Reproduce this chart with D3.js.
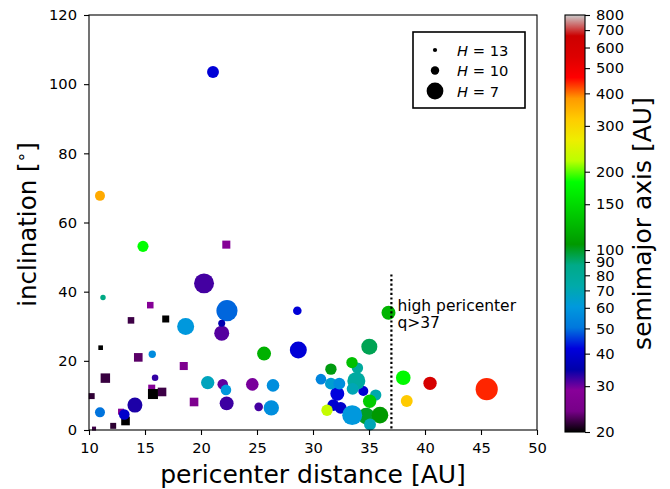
<!DOCTYPE html>
<html><head><meta charset="utf-8">
<script src="https://cdn.jsdelivr.net/npm/d3@7"></script>
<style>body{margin:0;background:#fff} text{font-family:"DejaVu Sans",sans-serif}</style>
</head><body><svg id="c" width="670" height="489"></svg>
<script>
// ---- data: round markers ----
const circleQ   = [21.07,10.98,14.82,20.27,11.25,18.63,22.32,21.85,21.85,28.6,15.65,15.9,20.6,10.98,14.1,13.15,25.63,28.69,21.94,22.23,24.58,26.43,22.29,25.15,26.28,36.74,35.03,33.97,33.48,31.6,30.71,32.17,31.6,32.35,34.49,33.87,33.54,31.81,32.47,31.25,35.6,35.06,34.76,33.5,35.98,35.09,38.06,40.45,38.37,45.51];
const circleInc = [103.5,67.7,53.1,42.4,38.3,29.9,34.5,28.0,30.9,34.5,21.9,15.1,13.7,5.1,7.2,4.5,22.1,23.1,13.2,11.6,13.2,12.9,7.7,6.7,6.4,33.9,24.1,17.9,19.5,17.6,14.7,10.5,13.4,13.4,11.3,14.2,11.9,7.2,6.4,5.7,10.1,8.3,4.0,4.3,4.3,1.6,15.1,13.5,8.4,11.8];
const circleH   = [8.5,9.25,8.8,6.25,11.9,6.95,6.0,7.5,10.8,9.9,10.6,11.1,8.0,9.25,7.5,9.0,7.8,6.95,9.0,9.0,8.25,8.25,7.8,9.9,7.4,7.8,7.2,8.7,8.7,8.7,9.0,7.8,8.5,8.5,9.25,6.7,8.5,8.5,8.5,8.7,8.7,8.0,7.05,6.25,7.05,8.5,7.6,8.0,8.5,5.8];
const circleA   = [41,360,183,31.7,88,60,49,31,35.5,41,56,32.5,68,50,33.5,39,120,41,30.5,60,29.5,57,32,31.7,57,122,94,78,130,103,54,42,63,57,40,77,70,40,39,228,72,139,100,60,105,70,177,600,320,440];
// ---- data: square markers ----
const squareQ   = [22.26,15.47,13.75,16.85,11.04,14.4,18.46,11.46,10.24,15.6,16.52,15.71,19.38,12.86,13.26,12.16,10.45];
const squareInc = [53.6,36.1,31.7,32.1,23.8,21.0,18.5,15.0,9.8,12.1,11.0,10.4,8.1,5.3,2.6,1.2,0.4];
const squareH   = [10.2,11.1,11.1,10.8,12.6,9.9,10.2,9.5,11.5,10.8,9.9,9.25,9.9,11.5,9.9,11.5,13.2];
const squareA   = [28,28,22,20,20,23,26,21.8,21.5,28,22,20,26,28,20,21.4,22];
// ---- ticks / legend ----
const xTicks = [10,15,20,25,30,35,40,45,50];
const yTicks = [0,20,40,60,80,100,120];
const cbTicks = [20,30,40,50,60,70,80,90,100,150,200,300,400,500,600,700,800];
const legendH = [13,10,7];
const qLimit = 37, qLineTop = 45;

// nipy_spectral colormap control points
const cmapStops = [[0,0,0,0],[0.05,0.4667,0,0.5333],[0.10,0.5333,0,0.6],[0.15,0,0,0.6667],[0.20,0,0,0.8667],[0.25,0,0.4667,0.8667],[0.30,0,0.6,0.8667],[0.35,0,0.6667,0.6667],[0.40,0,0.6667,0.5333],[0.45,0,0.6,0],[0.50,0,0.7333,0],[0.55,0,0.8667,0],[0.60,0,1,0],[0.65,0.7333,1,0],[0.70,0.9333,0.9333,0],[0.75,1,0.8,0],[0.80,1,0.6,0],[0.85,1,0,0],[0.90,0.8667,0,0],[0.95,0.8,0,0],[1.0,0.8,0.8,0.8]];
function cmap(t){
  t = Math.max(0, Math.min(1, t));
  for (let i=1;i<cmapStops.length;i++){
    const a=cmapStops[i-1], b=cmapStops[i];
    if (t<=b[0]){
      const f=(t-a[0])/(b[0]-a[0]);
      const c=[1,2,3].map(k=>Math.round(255*(a[k]+(b[k]-a[k])*f)));
      return `rgb(${c[0]},${c[1]},${c[2]})`;
    }
  }
  return "rgb(204,204,204)";
}

const svg = d3.select("#c");
const L=89, R=537, T=15, B=430;
const x = d3.scaleLinear().domain([10,50]).range([L,R]);
const y = d3.scaleLinear().domain([0,120]).range([B,T]);
const cnorm = d3.scaleLog().domain([20,800]).range([0,1]);
const color = a => cmap(cnorm(a));
const rad = H => 8.4*Math.pow(10,-(H-7)/10);
const TICKFS = 14.7;

// squares
const sq = squareQ.map((q,i)=>({q, inc:squareInc[i], H:squareH[i], a:squareA[i]}));
svg.append("g").selectAll("rect").data(sq).join("rect")
  .attr("x",d=>x(d.q)-rad(d.H)).attr("y",d=>y(d.inc)-rad(d.H))
  .attr("width",d=>2*rad(d.H)).attr("height",d=>2*rad(d.H))
  .attr("fill",d=>color(d.a));
// circles
const ci = circleQ.map((q,i)=>({q, inc:circleInc[i], H:circleH[i], a:circleA[i]}));
svg.append("g").selectAll("circle").data(ci).join("circle")
  .attr("cx",d=>x(d.q)).attr("cy",d=>y(d.inc)).attr("r",d=>rad(d.H))
  .attr("fill",d=>color(d.a));

// dotted line
svg.append("line").attr("x1",x(qLimit)).attr("x2",x(qLimit)).attr("y1",y(qLineTop)).attr("y2",y(0))
  .attr("stroke","#000").attr("stroke-width",2.2).attr("stroke-dasharray","2.2,2.4");
svg.append("text").attr("x",x(qLimit)+6).attr("y",311).attr("font-size",15.5).text("high pericenter");
svg.append("text").attr("x",x(qLimit)+6).attr("y",327.5).attr("font-size",15.5).text("q>37");

// axes
const gx = svg.append("g").attr("transform",`translate(0,${B})`)
  .call(d3.axisBottom(x).tickValues(xTicks).tickSize(5).tickPadding(8).tickFormat(d3.format("d")));
const gy = svg.append("g").attr("transform",`translate(${L},0)`)
  .call(d3.axisLeft(y).tickValues(yTicks).tickSize(5).tickPadding(7).tickFormat(d3.format("d")));
[gx,gy].forEach(g=>{
  g.select(".domain").remove();
  g.selectAll("line").attr("stroke","#000").attr("stroke-width",1.1);
  g.selectAll("text").attr("font-size",TICKFS).attr("font-family","DejaVu Sans").attr("fill","#000");
});
svg.append("rect").attr("x",L).attr("y",T).attr("width",R-L).attr("height",B-T)
  .attr("fill","none").attr("stroke","#000").attr("stroke-width",1.1);

// axis labels
svg.append("text").attr("x",(L+R)/2).attr("y",483).attr("text-anchor","middle").attr("font-size",25)
  .text("pericenter distance [AU]");
const yl = svg.append("text").attr("transform",`translate(36,${(T+B)/2 + 2}) rotate(-90)`)
  .attr("text-anchor","middle").attr("font-size",24.5);
yl.append("tspan").text("inclination [");
yl.append("tspan").attr("font-size",17).attr("dy",-9).text("∘");
yl.append("tspan").attr("dy",9).text("]");

// legend
const lg = svg.append("g");
lg.append("rect").attr("x",413).attr("y",32).attr("width",112).attr("height",76)
  .attr("fill","#fff").attr("stroke","#000").attr("stroke-width",1.6);
legendH.forEach((H,i)=>{
  const cy = 50 + i*20.5;
  lg.append("circle").attr("cx",435).attr("cy",cy).attr("r",rad(H)).attr("fill","#000");
  const t = lg.append("text").attr("x",457).attr("y",cy+5.5).attr("font-size",14.7);
  t.append("tspan").attr("font-style","italic").text("H");
  t.append("tspan").text(" = "+H);
});

// colorbar
const CB = {x:565, w:20, top:15, bottom:432};
const defs = svg.append("defs");
const grad = defs.append("linearGradient").attr("id","cbg").attr("x1",0).attr("y1",1).attr("x2",0).attr("y2",0);
cmapStops.forEach(s=>grad.append("stop").attr("offset",s[0]).attr("stop-color",cmap(s[0])));
svg.append("rect").attr("x",CB.x).attr("y",CB.top).attr("width",CB.w).attr("height",CB.bottom-CB.top)
  .attr("fill","url(#cbg)").attr("stroke","#000").attr("stroke-width",1.1);
const cy = d3.scaleLog().domain([20,800]).range([CB.bottom,CB.top]);
const gc = svg.append("g").attr("transform",`translate(${CB.x+CB.w},0)`)
  .call(d3.axisRight(cy).tickValues(cbTicks).tickSize(5).tickPadding(6).tickFormat(d3.format("d")));
gc.select(".domain").remove();
gc.selectAll("line").attr("stroke","#000").attr("stroke-width",1.1);
gc.selectAll("text").attr("font-size",TICKFS).attr("font-family","DejaVu Sans").attr("fill","#000");
svg.append("text").attr("transform",`translate(651,${(CB.top+CB.bottom)/2}) rotate(-90)`)
  .attr("text-anchor","middle").attr("font-size",25).text("semimajor axis [AU]");
</script></body></html>
